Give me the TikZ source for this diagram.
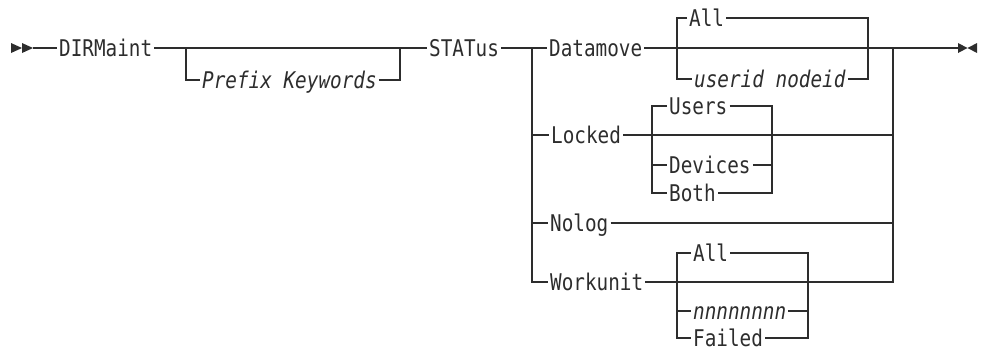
\documentclass[tikz,border=0pt]{standalone}
\usepackage{fontspec}
\newfontfamily\rr[FakeStretch=0.84]{DejaVu Sans Mono}
\definecolor{ink}{RGB}{45,45,45}
\begin{document}
\begin{tikzpicture}[x=1pt,y=-1pt]
\tikzset{
  kw/.style={font=\rr\fontsize{23}{26}\selectfont, text=ink, inner xsep=2pt, inner ysep=0pt, text height=16.4pt, text depth=0pt, anchor=west},
  var/.style={kw, font=\rr\itshape\fontsize{23}{26}\selectfont},
  rl/.style={draw=ink, line width=1.25pt},
  tip/.style={fill=ink}
}
\useasboundingbox (0,0) rectangle (984,349);
% nodes
\node[kw] (dir) at (57,48) {DIRMaint};
\node[var] (pre) at (200,80) {Prefix Keywords};
\node[kw] (stat) at (427,48) {STATus};
\node[kw] (dm) at (547,48) {Datamove};
\node[kw] (dall) at (687,18) {All};
\node[var] (uid) at (692,79) {userid nodeid};
\node[kw] (lk) at (549,135) {Locked};
\node[kw] (us) at (667,106) {Users};
\node[kw] (dev) at (667,165) {Devices};
\node[kw] (both) at (667,193) {Both};
\node[kw] (nl) at (548,223) {Nolog};
\node[kw] (wu) at (548,282) {Workunit};
\node[kw] (wall) at (691,253) {All};
\node[var] (nn) at (691,311) {nnnnnnnn};
\node[kw] (fail) at (691,338) {Failed};
% junction coordinates
\coordinate (s) at (33,48);
\coordinate (p1) at (186,48);
\coordinate (p2) at (400,48);
\coordinate (b1) at (532,48);
\coordinate (a1) at (677,48);
\coordinate (a2) at (868,48);
\coordinate (j) at (893,48);
\coordinate (e) at (958,48);
\coordinate (u1) at (652,135);
\coordinate (u2) at (772,135);
\coordinate (w1) at (677,282);
\coordinate (w2) at (808,282);
% main line
\draw[rl] (s) -- (dir.west);
\draw[rl] (dir.east) -- (stat.west);
\draw[rl] (p1) |- (pre.west);
\draw[rl] (pre.east) -| (p2);
\draw[rl] (stat.east) -- (dm.west);
\draw[rl] (dm.east) -- (e);
\draw[draw=ink, line width=2.6pt] (897,48) -- (922,48);
% datamove options
\draw[rl] (dall.west) -| (a1) |- (uid.west);
\draw[rl] (dall.east) -| (a2) |- (uid.east);
% status alternatives
\draw[rl] (b1) |- (wu.west);
\draw[rl] (b1 |- lk) -- (lk.west);
\draw[rl] (b1 |- nl) -- (nl.west);
\draw[rl] (lk.east) -- (j |- lk);
\draw[rl] (nl.east) -- (j |- nl);
\draw[rl] (wu.east) -| (j);
% locked options
\draw[rl] (us.west) -| (u1) |- (both.west);
\draw[rl] (u1 |- dev) -- (dev.west);
\draw[rl] (us.east) -| (u2) |- (both.east);
\draw[rl] (dev.east) -- (u2 |- dev);
% workunit options
\draw[rl] (wall.west) -| (w1) |- (fail.west);
\draw[rl] (w1 |- nn) -- (nn.west);
\draw[rl] (wall.east) -| (w2) |- (fail.east);
\draw[rl] (nn.east) -- (w2 |- nn);
% start / end marks
\fill[tip] (11,43) -- (22,48) -- (11,53) -- cycle;
\fill[tip] (22,43) -- (33,48) -- (22,53) -- cycle;
\fill[tip] (958,43) -- (967.5,48) -- (958,53) -- cycle;
\fill[tip] (977,43) -- (967.5,48) -- (977,53) -- cycle;
\end{tikzpicture}
\end{document}
